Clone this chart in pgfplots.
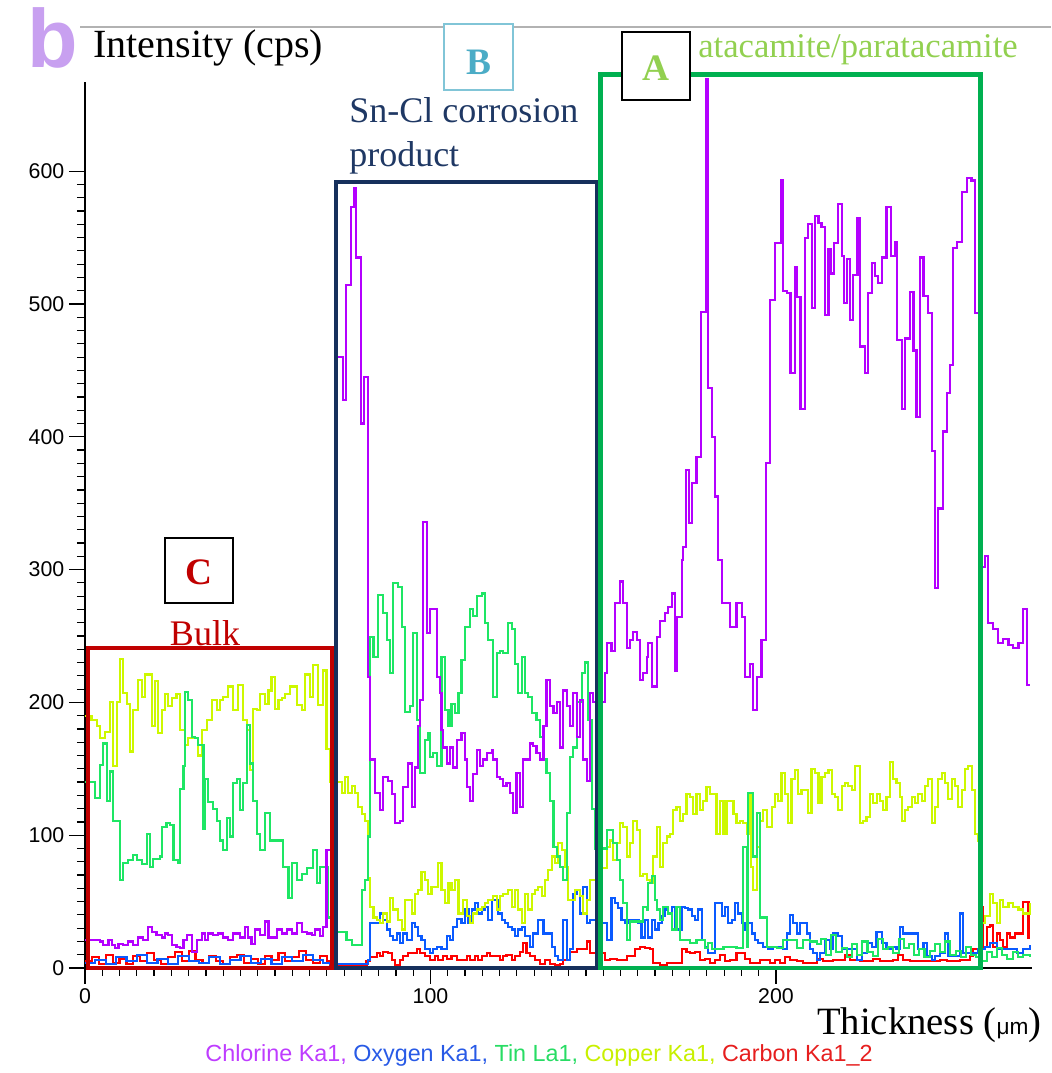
\documentclass[border=0pt]{standalone}
\usepackage{pgfplots}
\pgfplotsset{compat=1.18}
\usepackage{fontspec}
\setmainfont{Liberation Serif}
\newfontfamily\arial{Liberation Sans}
\definecolor{cCl}{RGB}{180,0,255}
\definecolor{cO}{RGB}{10,90,255}
\definecolor{cSn}{RGB}{30,230,100}
\definecolor{cCu}{RGB}{205,248,0}
\definecolor{cC}{RGB}{255,0,0}
\definecolor{bxC}{RGB}{192,0,0}
\definecolor{bxB}{RGB}{22,48,92}
\definecolor{bxA}{RGB}{0,176,80}
\definecolor{tB}{RGB}{75,172,198}
\definecolor{tA}{RGB}{146,208,80}
\definecolor{tSn}{RGB}{31,56,100}
\definecolor{lav}{RGB}{200,160,240}
\definecolor{lgCl}{RGB}{190,60,255}
\definecolor{lgO}{RGB}{40,90,230}
\definecolor{lgSn}{RGB}{40,220,100}
\definecolor{lgCu}{RGB}{200,240,0}
\definecolor{lgC}{RGB}{230,30,30}
\begin{document}
\begin{tikzpicture}
\useasboundingbox (0,0) rectangle (788.25pt,804.75pt);
\begin{axis}[
  at={(63.75pt,78.75pt)}, anchor=origin,
  x=2.591pt, y=0.996pt,
  xmin=0, xmax=274, ymin=0, ymax=667,
  axis x line*=bottom, axis y line*=left,
  axis line style={-, line width=1.2pt},
  xtick={0,100,200}, minor x tick num=19,
  ytick={0,100,...,600}, minor y tick num=9,
  tick align=outside,
  major tick length=12pt, minor tick length=6pt,
  tick style={black, line width=0.9pt},
  ticklabel style={font=\arial\fontsize{16}{16}\selectfont},
  /pgf/number format/assume math mode=true,
  clip=false,
  every axis plot/.append style={const plot mark left, line width=1.6pt, no markers},
]
% Carbon
\addplot[cC] table {
0 5
2 8
4 3
6 10
8 4
10 7
12 3
14 9
16 5
18 11
20 6
22 3
24 8
26 12
28 5
30 13
32 6
34 4
36 9
38 5
40 3
42 8
44 10
46 4
48 7
50 3
52 9
54 6
56 11
58 5
60 8
62 13
64 6
66 4
68 9
70 5
71 2
81.5 5
82.5 8
84.4 11
85.4 9
86.3 12
87.8 11
88.8 6
89.7 2
91.2 6
92.1 9
93.6 11
95.0 11
96.0 14
97.0 11
98.4 9
99.9 6
101.3 9
102.3 6
103.7 9
104.7 7
106.1 9
107.6 6
109.0 6
110.5 9
111.4 6
112.9 9
113.8 6
114.8 9
116.3 11
117.2 9
118.7 9
120.1 6
121.1 9
122.0 10
123.5 6
124.5 9
125.9 12
126.9 19
127.8 11
128.8 9
130.3 6
131.7 3
133.2 6
134.6 3
136.0 2
137.5 3
138.4 6
140.4 12
142.3 14
144.2 14
145.2 20
146.2 11
150.5 6
152.0 7
153.9 6
155.8 6
156.8 9
158.2 9
159.2 14
160.6 16
162.1 15
163.5 14
164.5 4
166.4 2
168.4 4
170.3 4
171.7 4
172.7 14
174.1 12
175.1 11
176.6 12
178.0 6
179.5 7
180.9 4
182.3 6
183.8 10
185.2 5
186.7 6
188.6 11
190.1 11
191.0 7
192.5 4
193.9 4
195.4 6
196.8 6
198.3 4
199.7 6
201.2 4
202.6 8
204.1 6
206.0 5
207.9 4
211.8 7
213.7 5
216.6 6
220.0 10
221.4 6
224.3 5
228.2 7
230.1 5
234.0 6
235.4 10
236.9 6
238.8 5
243.6 5
247.5 6
249.4 5
253.3 6
256.2 9
257.1 14
258.6 14
259.1 46
260.0 16
261.0 31
261.9 32
262.9 16
263.9 26
264.8 21
265.8 16
266.8 26
267.7 23
269.2 26
270.6 26
271.6 50
273.1 23
273.5 23
};
% Oxygen
\addplot[cO] table {
0 4
3 6
6 3
9 8
12 5
15 10
18 4
21 7
24 3
27 9
30 5
33 4
36 8
39 3
42 6
45 9
48 4
51 7
54 3
57 8
60 5
63 10
66 6
69 4
71 3
82.0 6
82.5 34
85.4 41
86.3 36
87.3 29
88.3 24
89.2 21
90.2 26
91.2 19
92.1 26
93.1 21
94.6 34
95.5 31
96.5 24
97.4 21
98.4 14
99.9 11
100.8 14
101.8 16
103.2 14
104.7 24
105.6 21
106.6 31
107.6 37
109.0 34
110.0 44
111.0 34
111.9 44
112.9 49
113.8 41
114.8 44
115.8 46
116.7 36
117.7 51
118.7 51
119.6 41
120.6 36
121.6 34
122.5 31
123.5 29
124.5 24
125.4 29
126.4 31
127.4 24
128.8 16
129.8 26
131.2 36
132.7 26
134.1 26
135.1 16
136.0 9
137.0 6
138.4 36
139.4 6
140.4 14
141.3 56
142.3 59
143.3 41
144.2 61
145.2 34
146.2 36
149.1 34
151.0 21
152.4 53
153.4 49
154.4 45
155.3 36
156.3 34
157.3 36
160.2 34
161.1 23
162.1 36
163.0 23
164.0 36
165.0 29
166.0 34
166.9 39
167.9 44
168.8 41
169.8 46
170.8 29
171.7 29
172.7 46
173.7 45
174.6 44
175.6 39
176.6 36
177.5 44
178.5 21
179.5 16
180.4 11
181.4 11
182.3 49
183.3 49
184.3 39
185.2 46
186.2 34
187.2 36
188.1 49
189.1 41
190.1 34
191.0 29
192.0 34
193.0 26
193.9 21
194.9 19
196.3 16
197.8 14
199.2 16
200.7 16
202.1 14
203.1 26
204.1 40
205.0 34
206.0 26
207.0 34
207.9 34
208.9 26
209.8 14
210.8 11
211.8 6
212.7 11
214.2 21
215.6 14
216.6 26
218.0 24
219.0 14
220.5 14
221.9 14
223.4 6
224.8 11
226.3 19
227.7 16
229.1 27
230.6 19
232.0 14
233.5 16
234.9 14
235.9 31
236.9 26
237.8 26
238.8 26
240.2 26
241.2 14
242.7 19
243.6 9
245.1 6
246.0 9
247.5 11
249.0 26
249.9 9
251.3 9
253.3 41
254.2 11
255.7 11
257.1 11
258.6 14
260.5 16
262.0 19
263.9 14
265.8 14
267.7 14
269.7 11
271.6 14
273.5 17
};
% Copper
\addplot[cCu] table {
0 190
1.9 187
3.4 182
4.3 173
5.8 178
7.2 200
8.2 152
9.2 200
10.1 233
11.1 207
12.1 199
13.0 163
14.0 194
15.4 217
16.4 204
17.4 221
18.3 221
19.3 182
20.3 216
21.2 177
22.2 194
23.2 206
24.1 197
25.1 203
26.5 206
27.5 179
28.9 168
29.9 173
31.4 173
32.8 160
33.8 179
35.2 187
36.7 202
38.1 194
39.1 202
40.0 204
41.5 212
42.9 194
44.4 213
45.8 187
46.8 179
47.8 149
48.7 195
49.7 194
50.7 206
52.1 199
53.1 209
54.0 219
55.0 195
56.0 202
56.9 203
57.9 206
59.3 212
61.3 198
62.7 194
63.7 221
65.1 204
66.1 228
67.5 198
69.0 224
69.9 165
71.0 140
74.3 132
75.3 144
76.2 132
77.2 137
78.1 132
79.1 121
80.1 116
81.0 111
82.0 68
82.5 46
83.5 38
84.4 36
85.4 34
86.3 41
87.3 35
88.3 53
89.2 44
90.7 36
91.7 29
92.6 51
93.6 51
94.6 41
95.5 56
96.5 59
97.4 72
98.4 66
99.4 56
100.3 61
101.3 61
102.3 79
103.2 59
104.2 49
105.2 64
106.1 59
107.1 66
108.1 41
109.5 51
110.5 39
111.4 34
112.4 41
113.4 44
114.8 46
115.8 49
116.7 51
118.2 54
119.2 44
120.1 54
121.1 56
122.5 59
123.5 46
124.5 59
125.4 44
126.4 34
127.4 56
128.3 44
129.3 56
130.3 59
131.2 61
132.2 54
133.2 66
134.1 74
135.1 84
136.0 79
137.0 94
138.0 89
138.9 76
139.9 51
140.9 51
141.8 59
143.3 54
144.2 41
145.2 51
146.2 66
148.1 75
151.0 91
151.9 96
152.9 81
153.9 94
154.8 109
155.8 106
156.8 84
157.7 94
158.7 111
159.7 104
160.6 69
161.6 71
162.6 66
163.5 64
164.5 84
165.5 106
166.4 76
167.4 94
168.4 99
169.3 101
170.3 119
171.2 121
172.2 111
173.2 116
174.1 131
175.1 129
176.1 116
177.0 131
178.0 119
179.0 126
179.9 136
180.9 131
181.9 131
182.8 101
183.8 126
184.8 101
185.7 126
186.7 126
187.7 116
188.6 109
189.6 111
190.5 109
191.5 101
192.2 131
192.7 76
193.4 59
194.4 91
195.4 111
196.3 119
197.3 106
198.8 121
199.7 131
200.7 126
201.6 147
202.6 131
203.6 109
204.5 142
205.5 149
206.5 131
207.4 134
209.4 117
210.3 150
211.3 147
212.3 124
213.2 144
214.2 147
215.2 149
216.1 131
217.1 129
218.0 119
219.0 137
220.0 139
220.9 137
221.9 134
222.9 152
224.3 109
225.3 111
226.2 114
227.2 131
228.2 124
229.2 131
230.1 126
231.1 119
232.0 129
233.0 155
234.0 142
234.9 139
235.9 129
236.4 111
237.4 119
238.3 121
239.3 129
240.2 124
241.2 131
242.2 126
243.1 137
244.1 142
245.1 109
246.0 121
247.0 142
248.0 147
248.9 139
249.9 127
250.9 142
251.8 137
252.8 121
253.8 134
254.7 150
255.7 152
256.7 134
257.6 101
258.6 96
259.3 34
260.5 39
262.0 56
262.9 49
263.9 34
264.8 51
265.8 46
267.3 49
268.7 46
270.2 44
271.6 41
273.5 49
};
% Tin
\addplot[cSn] table {
0 140
1.9 140
2.9 128
4.3 153
5.3 169
6.3 126
7.2 148
8.2 111
10.1 66
11.1 79
12.5 81
14.0 85
15.0 81
16.4 78
17.9 101
18.8 76
19.8 82
21.7 84
22.2 106
23.6 109
24.6 108
25.6 81
27.0 79
27.5 135
28.5 152
28.9 208
29.9 202
30.9 174
31.8 173
32.8 168
34.3 105
34.7 142
35.7 125
37.1 120
38.1 111
39.1 96
40.0 89
41.0 113
42.0 99
42.9 139
43.9 142
44.9 119
45.8 139
46.8 183
47.8 154
48.7 126
49.7 101
50.7 89
52.1 117
53.6 96
55.5 96
57.4 76
58.9 53
59.8 79
61.3 66
62.7 71
64.2 75
66.1 89
67.1 64
68.0 76
69.5 76
70.4 38
71.5 27
75.7 21
77.2 17
80.1 59
81.0 66
82.0 99
82.5 249
83.5 234
84.9 281
86.3 267
87.3 247
88.3 222
89.2 290
90.7 287
91.7 257
92.6 193
94.1 197
95.0 252
96.0 187
97.0 147
98.4 172
99.4 177
99.9 159
100.8 162
101.8 152
103.2 234
104.2 194
105.2 182
106.1 199
107.1 192
108.1 207
109.0 232
110.0 257
111.4 270
112.4 265
113.4 280
114.8 282
115.8 260
116.7 247
118.2 204
119.2 237
120.1 239
121.1 237
122.5 260
123.5 255
124.5 229
125.4 207
126.4 234
127.4 207
128.3 204
129.3 192
130.7 187
131.7 174
132.7 157
133.6 147
134.6 126
135.6 91
136.5 84
137.5 76
138.4 66
139.4 117
140.4 159
141.3 166
142.3 200
143.8 222
144.7 230
145.7 187
146.7 120
147.5 90
151.0 104
152.9 94
153.9 81
154.8 66
155.8 49
156.8 21
157.7 35
161.6 46
162.6 44
163.0 64
164.0 69
165.0 51
165.5 44
166.4 36
167.4 46
168.8 41
169.8 29
171.2 46
172.2 21
175.1 19
177.0 21
179.4 15
180.4 19
181.4 14
184.8 16
188.6 15
190.5 91
191.5 16
192.0 132
193.4 84
194.4 117
195.4 38
197.3 16
200.2 15
202.1 21
206.0 15
207.9 21
209.8 20
211.8 18
213 22
214.5 10
216 25
217.5 12
219 15
220.5 8
222 18
223.5 10
225 20
226.5 12
228 9
229.5 22
231 14
232.5 16
234 11
235.5 22
237 15
238.5 18
240 10
241.5 14
243 8
244.5 13
246 18
247.5 12
249 20
250.5 10
252 13
253.5 8
255 16
256.5 10
258 8
259.5 5
261 12
262.5 8
264 15
265.5 10
267 7
268.5 12
270 8
271.5 10
273.5 8
};
% Chlorine
\addplot[cCl] table {
0 21
1.9 21
3.4 21
4.3 20
5.3 17
6.8 21
7.7 17
8.7 15
9.7 18
11.1 17
12.5 20
14.0 17
15.4 23
16.9 21
18.3 31
19.3 27
20.7 25
22.2 23
23.2 26
24.1 25
25.1 17
26.5 16
27.5 15
28.5 21
29.4 25
30.9 12
32.3 21
33.8 26
34.7 21
35.7 26
37.1 25
38.6 26
40.0 23
41.5 21
42.9 26
44.9 23
46.3 31
47.3 23
48.2 18
49.2 29
50.7 25
52.1 35
53.1 23
54.5 23
55.5 29
56.9 26
58.4 29
59.8 26
61.3 34
62.7 27
64.2 26
65.6 25
66.6 29
68.0 24
69.0 31
69.9 89
72.6 460
73.8 460
74.8 428
75.5 514
76.9 573
78.0 587
78.4 535
79.8 410
80.8 445
82.0 219
82.5 157
83.9 132
85.4 119
86.3 144
87.8 141
88.8 131
89.7 109
91.2 111
92.1 136
93.6 154
94.6 121
95.5 151
96.5 182
97.0 202
97.9 336
98.9 252
99.9 270
101.8 219
102.7 207
103.2 179
103.7 166
104.7 154
105.6 166
106.6 151
107.6 172
109.0 177
110.0 157
110.5 136
111.4 126
112.4 146
113.4 164
114.3 152
115.3 157
116.3 162
117.7 164
118.2 157
119.2 144
120.1 142
121.1 137
122.0 139
123.0 132
124.0 117
124.9 147
125.9 121
126.9 157
128.8 169
129.8 167
130.7 162
131.7 157
132.7 182
133.6 217
134.6 197
135.6 192
136.5 200
137.5 166
138.4 209
139.4 197
140.4 182
141.3 207
142.3 174
143.3 202
144.2 157
145.2 141
146.2 207
147.1 200
149.1 200
150.5 222
151.0 245
152.4 239
153.4 275
154.8 291
155.8 275
156.8 241
157.7 247
158.7 253
159.7 247
160.6 217
161.6 222
162.6 234
163.0 245
164.0 212
165.0 212
165.5 249
166.4 261
167.9 267
168.8 272
169.8 282
170.8 224
171.4 264
172.7 307
173.2 317
173.9 375
174.9 335
175.6 365
177.0 385
178.2 494
179.7 669
180.4 437
181.4 400
182.4 355
183.3 307
184.3 275
185.7 275
186.7 257
188.6 275
190.1 264
191.0 219
192.5 229
193.4 194
194.4 219
195.8 247
197.0 380
198.3 503
199.7 546
201.6 593
202.1 510
203.1 508
204.2 448
205.5 528
206.2 505
207.1 421
208.4 550
209.4 560
210.5 497
211.3 566
212.3 561
213.2 558
214.2 492
215.2 541
215.8 523
216.8 546
218.0 575
219.0 536
219.7 501
220.5 534
221.4 488
222.4 522
223.6 565
224.3 468
225.8 448
226.7 508
227.7 531
228.7 521
229.6 516
230.6 535
232.0 573
233.2 536
234.5 547
235.1 473
236.4 421
237.4 474
238.8 509
239.8 465
240.7 415
241.7 535
242.7 506
244.1 493
245.1 389
246.0 286
247.0 346
248.4 404
249.4 433
250.4 454
251.3 542
252.5 547
253.8 584
255.2 595
256.6 593
257.6 493
259.1 302
260.5 310
261.5 260
262.9 255
264.4 245
265.8 248
267.3 243
268.7 241
270.2 245
271.6 270
272.6 213
273.5 213
};
% region boxes
\draw[bxC, line width=3pt] (axis cs:0.9,0) rectangle (axis cs:71.4,240.6);
\draw[bxB, line width=3pt] (axis cs:72.6,0) rectangle (axis cs:148.1,591.5);
\draw[bxA, line width=3.5pt] (axis cs:149.3,0) rectangle (axis cs:259.2,673);
\end{axis}
\begin{scope}[x=0.75pt, y=-0.75pt, shift={(0,804.75pt)}]
\draw[gray!60, line width=1.5pt] (80,27) -- (1051,27);
\node[text=lav, font=\arial\bfseries\fontsize{62}{62}\selectfont, inner sep=0] at (53,38) {b};
\node[anchor=west, font=\fontsize{30}{30}\selectfont, inner sep=0] at (93,48) {Intensity (cps)};
\draw[draw=tB!70, fill=white, line width=1.2pt] (444,24) rectangle (513,90);
\node[text=tB, font=\bfseries\fontsize{28}{28}\selectfont] at (478.5,62) {B};
\draw[black, fill=white, line width=1.5pt] (622,32) rectangle (690,100);
\node[text=tA, font=\bfseries\fontsize{28}{28}\selectfont] at (656,68) {A};
\draw[black, fill=white, line width=1.5pt] (165,538) rectangle (233,603);
\node[text=bxC, font=\bfseries\fontsize{28}{28}\selectfont] at (199,572) {C};
\node[text=bxC, font=\fontsize{27}{27}\selectfont] at (205,633) {Bulk};
\node[anchor=west, text=tSn, font=\fontsize{27}{27}\selectfont, inner sep=0] at (349,110) {Sn-Cl corrosion};
\node[anchor=west, text=tSn, font=\fontsize{27}{27}\selectfont, inner sep=0] at (349,158) {product};
\node[anchor=west, text=tA, font=\fontsize{26}{26}\selectfont, inner sep=0] at (698,50) {atacamite/paratacamite};
\node[anchor=west, font=\fontsize{29}{29}\selectfont, inner sep=0] at (817,1025) {Thickness ({\arial\fontsize{17}{17}\selectfont μm})};
\node[font=\arial\fontsize{17.5}{17.5}\selectfont, inner sep=0] at (539,1055) {\textcolor{lgCl}{Chlorine Ka1,} \textcolor{lgO}{Oxygen Ka1,} \textcolor{lgSn}{Tin La1,} \textcolor{lgCu}{Copper Ka1,} \textcolor{lgC}{Carbon Ka1\_2}};
\end{scope}
\end{tikzpicture}
\end{document}
